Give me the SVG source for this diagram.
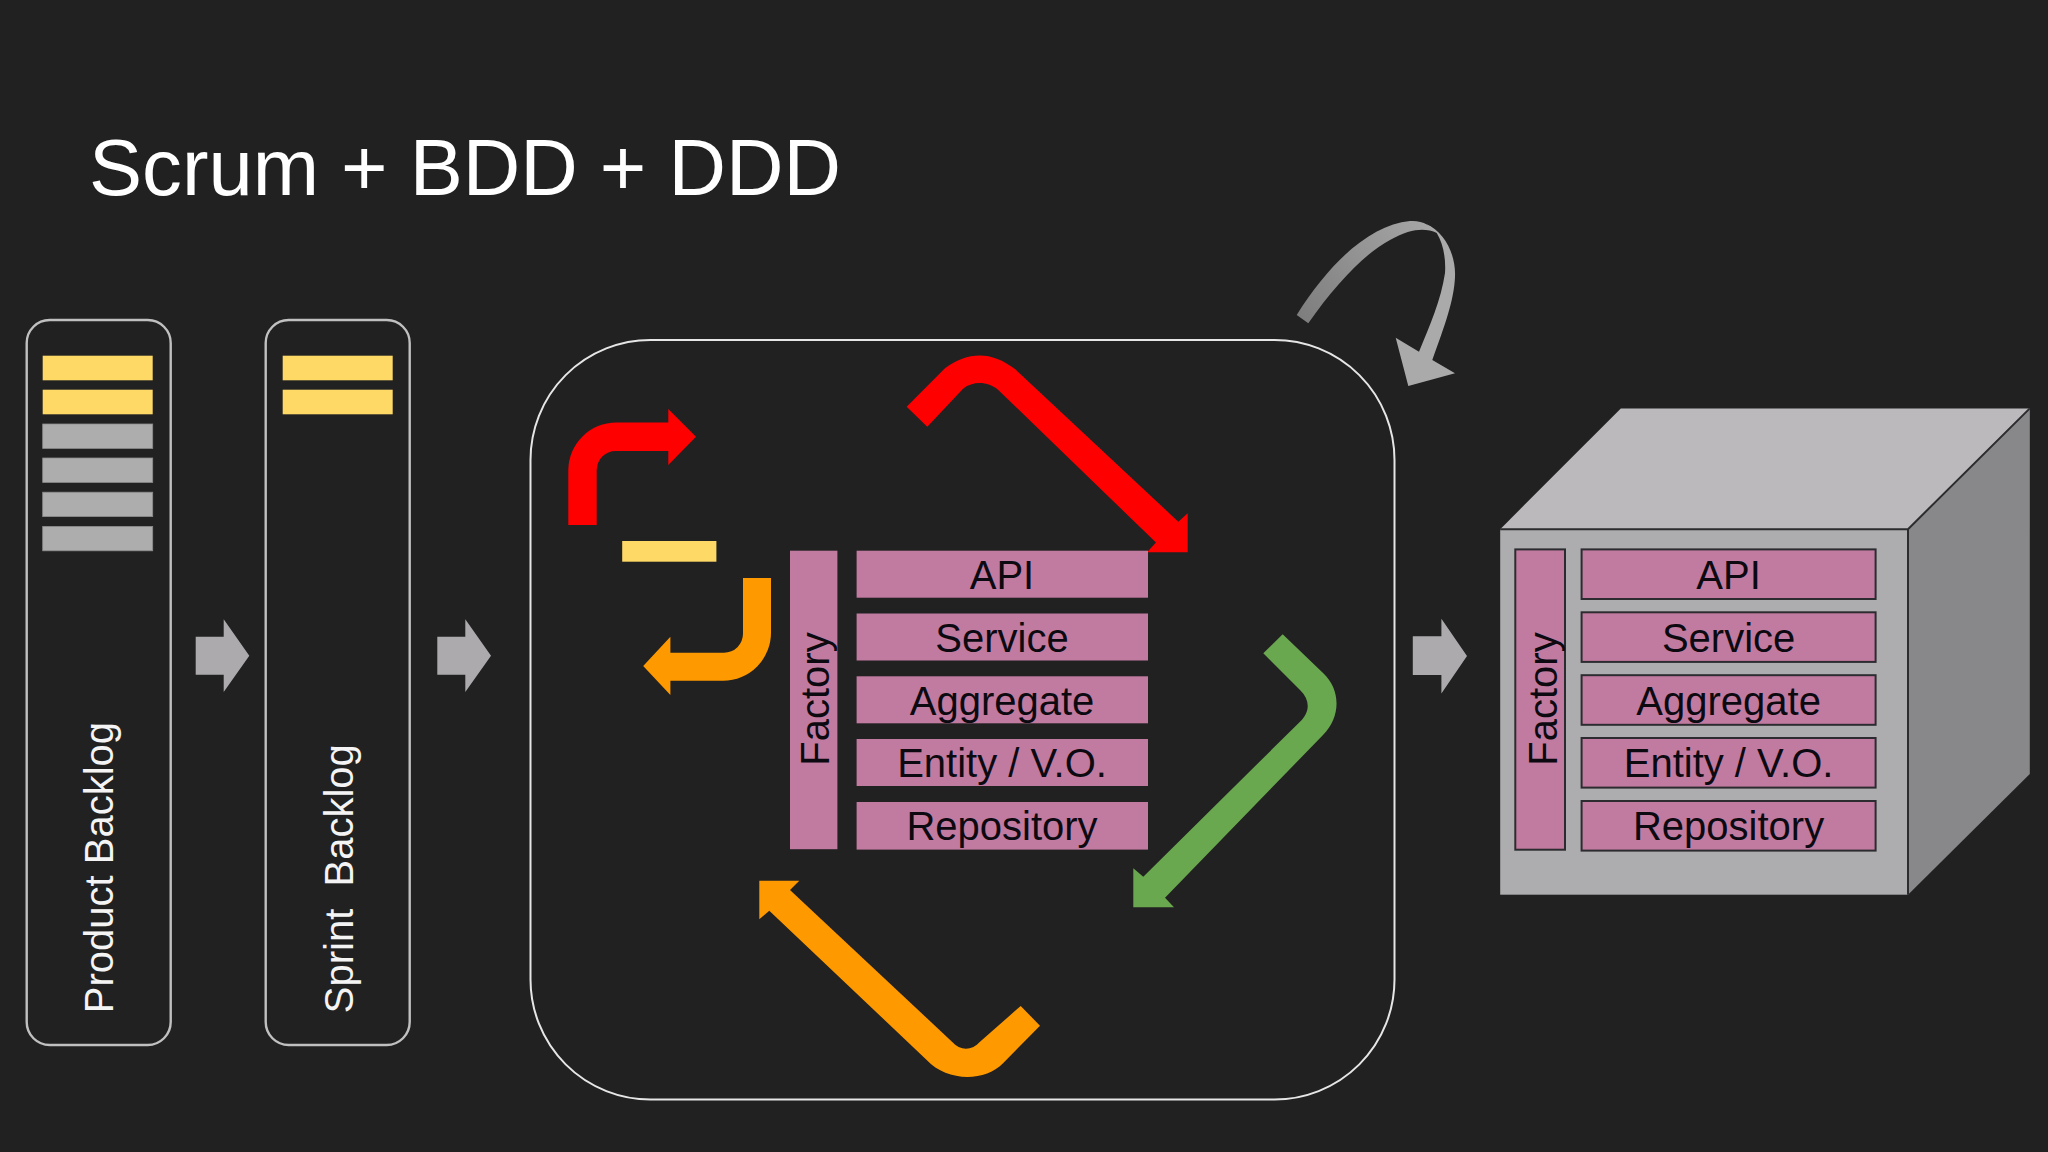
<svg xmlns="http://www.w3.org/2000/svg" width="2048" height="1152" viewBox="0 0 2048 1152">
<style>
text{font-family:"Liberation Sans",Arial,sans-serif;font-size:40px}
.lab{fill:#0c0a10;text-anchor:middle}
.white{fill:#f4f4f4}
.panel{fill:none;stroke:#c0c0c0;stroke-width:2.4}
.yellow{fill:#ffd966}
.grey{fill:#adadad;stroke:#8c8c8c;stroke-width:.8}
.pink{fill:#c27ba0}
.cubepink{fill:#c27ba0;stroke:#2c2c30;stroke-width:2}
.step{fill:#acaaad}
</style>
<defs>
<linearGradient id="curl" gradientUnits="userSpaceOnUse" x1="1297" y1="320" x2="1430" y2="225">
<stop offset="0" stop-color="#7d7d7d"/><stop offset="1" stop-color="#a6a6a6"/>
</linearGradient>
</defs>
<rect id="background" width="2048" height="1152" fill="#212122"/>
<text id="title" x="89" y="195" class="white" style="font-size:79.6px;fill:#fff">Scrum + BDD + DDD</text>

<g id="product-backlog">
<rect class="panel" x="26.7" y="320" width="144" height="725" rx="23"/>
<rect class="yellow" x="42.7" y="355.7" width="110" height="24.6"/>
<rect class="yellow" x="42.7" y="389.7" width="110" height="24.6"/>
<rect class="grey" x="42.7" y="424" width="110" height="24.4"/>
<rect class="grey" x="42.7" y="458" width="110" height="24.4"/>
<rect class="grey" x="42.7" y="492.2" width="110" height="24.4"/>
<rect class="grey" x="42.7" y="526.4" width="110" height="24.4"/>
<text class="white" transform="translate(112.7 1013.2) rotate(-90)">Product Backlog</text>
</g>
<g id="sprint-backlog">
<rect class="panel" x="265.7" y="320" width="144" height="725" rx="23"/>
<rect class="yellow" x="282.7" y="355.7" width="110" height="24.6"/>
<rect class="yellow" x="282.7" y="389.7" width="110" height="24.6"/>
<text class="white" transform="translate(352.7 1013.2) rotate(-90)" xml:space="preserve">Sprint  Backlog</text>
</g>
<g id="sprint-cycle">
<rect x="530.5" y="340" width="864" height="759.5" rx="120" fill="none" stroke="#e6e6e6" stroke-width="2"/>
</g>
<g id="selected-item"><rect class="yellow" x="622.2" y="541" width="94.2" height="20.7"/></g>

<g id="connectors">
<path id="step-1" class="step" d="M195.7 636.7H223.7V619.3L249.3 655.7L223.7 692V674.7H195.7Z"/>
<path id="step-2" class="step" d="M437.3 636.7H465.3V619.3L491 655.7L465.3 692V674.7H437.3Z"/>
<path id="step-3" class="step" d="M1412.8 636.3H1441.4V618.7L1467 656L1441.4 693.6V675H1412.8Z"/>
<path id="cycle-red-small" fill="#ff0000" d="M568.3 525V470A48 48 0 0 1 616.3 422.5H668.3V409L696 436.7L668.3 465V451H615.7A19 19 0 0 0 596.7 470V525Z"/>
<path id="cycle-orange-small" fill="#ff9900" d="M771 578V632A48 48 0 0 1 723 680.7H670.4V695L643.2 666L670.4 636.7V652.7H724A19 19 0 0 0 743 633.7V578Z"/>
<path id="cycle-red-large" fill="#ff0000" d="M906.7 406.7L945 368.3C968 351 992 351 1015 369L1178.3 521.7L1187.7 513.3V552.3H1147L1156 542.5L998.3 390C988 381 973 381 963.3 388.5L927.3 426.7Z"/>
<path id="cycle-green" fill="#6aa84f" d="M1282.7 634.3L1323.3 673.3C1341 690 1341 717 1323 735L1165 897.7L1174 907.3H1133.3V868.3L1143.3 876.7L1300 721.7C1310.3 712 1310.3 700 1300 690L1263.3 653.3Z"/>
<path id="cycle-orange-large" fill="#ff9900" d="M790 890L952 1041.7C960 1051 972 1051 980 1041.7L1020.7 1006L1040 1025.7L1003.3 1063C985 1082 947 1082 926.7 1060L769.3 910.7L759.3 919.3V880.7H799.3Z"/>
<path id="repeat-back" fill="url(#curl)" d="M1296.7 315C1330 262 1370 225 1410 221C1422 220 1432 226 1437 233C1425 228 1412 228 1390 240C1365 253 1335 285 1308.3 323.3Z"/>
<path id="repeat-front" fill="#aaaaaa" d="M1426 224C1445 232 1456 255 1455 277C1454 300 1445 325 1432.3 360L1455 373.3L1408.3 386L1395.7 337.7L1419 351.7C1430 325 1441 300 1445 273C1446 258 1443 243 1436.7 233Z"/>
</g>

<g id="layers-sprint">
<rect class="pink" x="790" y="550.7" width="47.4" height="298.5"/>
<text class="lab" transform="translate(829 699) rotate(-90)">Factory</text>
<rect class="pink" x="856.6" y="550.7" width="291.4" height="47"/>
<text class="lab" x="1002" y="589.3">API</text>
<rect class="pink" x="856.6" y="613.5" width="291.4" height="47"/>
<text class="lab" x="1002" y="652.2">Service</text>
<rect class="pink" x="856.6" y="676.3" width="291.4" height="47"/>
<text class="lab" x="1002" y="714.8">Aggregate</text>
<rect class="pink" x="856.6" y="739" width="291.4" height="47"/>
<text class="lab" x="1002" y="777.4">Entity / V.O.</text>
<rect class="pink" x="856.6" y="802" width="291.4" height="47.6"/>
<text class="lab" x="1002" y="840.4">Repository</text>
</g>

<g id="product-cube">
<path fill="#bbb9bb" d="M1500.2 529.2L1620.8 408.4H2029.8L1908 529.2Z"/>
<path fill="#88888a" d="M1908 529.2L2029.8 408.4V774L1908 894.7Z"/>
<rect fill="#adadaf" x="1500.2" y="529.2" width="407.8" height="365.5"/>
<path fill="none" stroke="#2c2c30" stroke-width="2" d="M1500.2 529.2H1908V894.7M1908 529.2L2029.8 408.4"/>
<rect class="cubepink" x="1515.3" y="549.4" width="49.7" height="300.3"/>
<text class="lab" transform="translate(1556.5 699) rotate(-90)">Factory</text>
<rect class="cubepink" x="1581.6" y="549.4" width="294" height="49.6"/>
<text class="lab" x="1728.6" y="589.3">API</text>
<rect class="cubepink" x="1581.6" y="612.3" width="294" height="49.6"/>
<text class="lab" x="1728.6" y="652.2">Service</text>
<rect class="cubepink" x="1581.6" y="675.2" width="294" height="49.6"/>
<text class="lab" x="1728.6" y="714.8">Aggregate</text>
<rect class="cubepink" x="1581.6" y="738" width="294" height="49.6"/>
<text class="lab" x="1728.6" y="777.4">Entity / V.O.</text>
<rect class="cubepink" x="1581.6" y="801" width="294" height="49.6"/>
<text class="lab" x="1728.6" y="840.4">Repository</text>
</g>
</svg>
